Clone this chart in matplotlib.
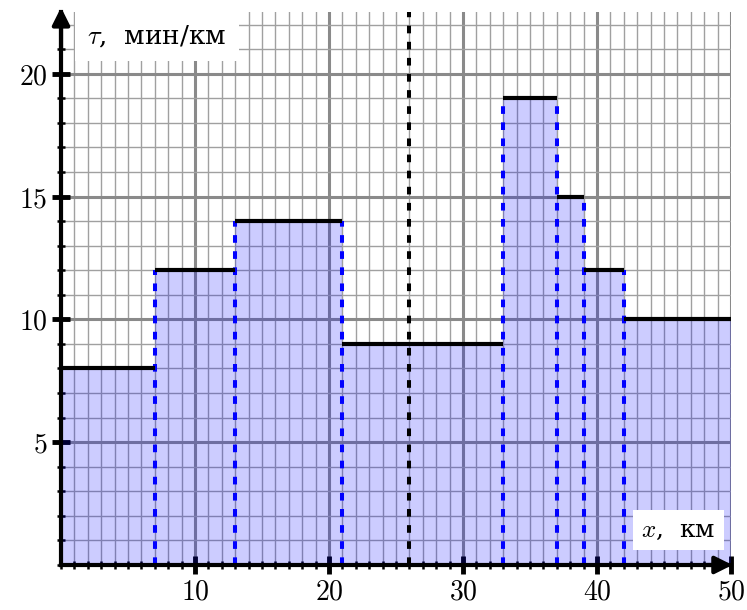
import numpy as np
import matplotlib.pyplot as plt
from matplotlib.ticker import MultipleLocator, FixedLocator

plt.rcParams['mathtext.fontset'] = 'cm'
plt.rcParams['font.family'] = ['DejaVu Serif']

# step boundaries (km) and pace on each segment (min/km)
edges = [0, 7, 13, 21, 33, 37, 39, 42, 50]
pace = [8, 12, 14, 9, 19, 15, 12, 10]
marker_x = 26

x_ticks = [10, 20, 30, 40, 50]
y_ticks = [5, 10, 15, 20]

fig = plt.figure(figsize=(7.47, 6.10), dpi=100)
ax = fig.add_axes([0.0817, 0.0738, 0.897, 0.906])
ax.set_xlim(0, 50)
ax.set_ylim(0, 22.5)

# grid: thick every 10 km / 5 min, thin every unit
for v in range(0, 51):
    major = v % 10 == 0
    ax.axvline(v, color='#8a8a8a' if major else '#a0a0a0', lw=2.2 if major else 1.0, zorder=1)
for v in range(0, 23):
    major = v % 5 == 0
    ax.axhline(v, color='#8a8a8a' if major else '#a0a0a0', lw=2.2 if major else 1.0, zorder=1)

# filled steps
xs = np.repeat(edges, 2)[1:-1]
ys = np.repeat(pace, 2)
ax.fill_between(xs, 0, ys, color='blue', alpha=0.2, lw=0, zorder=2)

# dashed separators
for i, e in enumerate(edges[1:-1]):
    h = max(pace[i], pace[i + 1])
    ax.plot([e, e], [0, h], color='blue', lw=2.9, ls=(0, (1.9, 2.1)), zorder=3)

# top segments
for i, p in enumerate(pace):
    ax.plot([edges[i], edges[i + 1]], [p, p], color='black', lw=3, solid_capstyle='butt', zorder=4)

ax.plot([marker_x, marker_x], [0, 22.5], color='black', lw=2.9, ls=(0, (1.9, 2.1)), zorder=4)

# axes
for s in ['top', 'right']:
    ax.spines[s].set_visible(False)
for s in ['left', 'bottom']:
    ax.spines[s].set_linewidth(3)
    ax.spines[s].set_zorder(6)
ax.annotate('', xy=(0, 22.7), xytext=(0, 21), annotation_clip=False,
            arrowprops=dict(arrowstyle='-|>', lw=3, color='black', mutation_scale=26, shrinkA=0, shrinkB=0))
ax.annotate('', xy=(50.1, 0), xytext=(48, 0), annotation_clip=False,
            arrowprops=dict(arrowstyle='-|>', lw=3, color='black', mutation_scale=26, shrinkA=0, shrinkB=0))

ax.xaxis.set_major_locator(FixedLocator(x_ticks))
ax.yaxis.set_major_locator(FixedLocator(y_ticks))
ax.xaxis.set_minor_locator(MultipleLocator(1))
ax.yaxis.set_minor_locator(MultipleLocator(1))
ax.set_xticklabels(['$%d$' % t for t in x_ticks])
ax.set_yticklabels(['$%d$' % t for t in y_ticks])
ax.tick_params(which='major', direction='inout', length=13, width=3.5, labelsize=20, pad=3)
ax.tick_params(which='minor', direction='inout', length=6, width=1.8)

ax.text(1.95, 21.55, r'$\tau$,  мин/км', fontsize=19, va='center', ha='left', zorder=7,
        bbox=dict(facecolor='white', edgecolor='none', pad=9))
ax.text(43.3, 1.42, r'$x$,  км', fontsize=18, va='center', ha='left', zorder=7,
        bbox=dict(facecolor='white', edgecolor='none', pad=6))

fig.savefig('out.png', dpi=100)
